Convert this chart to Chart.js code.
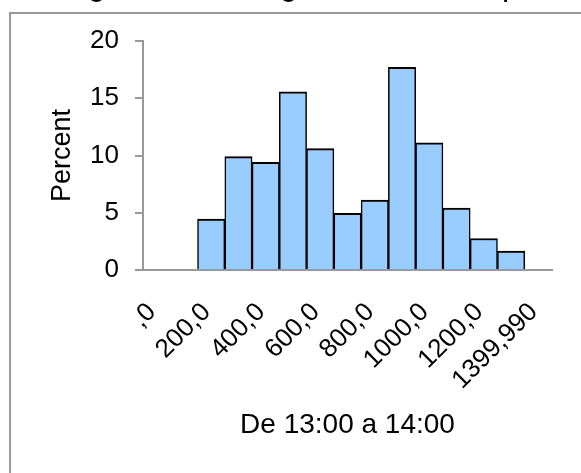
<!DOCTYPE html>
<html>
<head>
<meta charset="utf-8">
<script src="https://cdn.jsdelivr.net/npm/chart.js@4/dist/chart.umd.min.js"></script>
<style>
  html, body { margin: 0; padding: 0; background: #fff; overflow: hidden; }
</style>
</head>
<body>
<canvas id="myChart" width="581" height="473"></canvas>
<script>
// histogram bins (lower edge of each bin, width 100)
const binStarts = [200, 300, 400, 500, 600, 700, 800, 900, 1000, 1100, 1200, 1300]
const binWidth = 100
const percents = [4.45, 9.9, 9.4, 15.55, 10.6, 4.95, 6.1, 17.7, 11.1, 5.4, 2.75, 1.65]

const xTickValues = [0, 200, 400, 600, 800, 1000, 1200, 1400]
const xTickLabels = [',0', '200,0', '400,0', '600,0', '800,0', '1000,0', '1200,0', '1399,990']

const titleText = 'Figura 3 - Histograma de exemplo'
const ctx = document.getElementById('myChart')

Chart.defaults.font.family = '"Liberation Sans", Arial, sans-serif'
Chart.defaults.font.size = 26
Chart.defaults.color = '#000'

// grey frame and the cut-off figure caption above it
const framePlugin = {
    id: 'frame',
    beforeDraw(chart) {
        const c = chart.ctx
        c.save()
        c.fillStyle = '#fff'
        c.fillRect(0, 0, chart.width, chart.height)
        c.strokeStyle = '#999'
        c.lineWidth = 2
        c.beginPath()
        c.moveTo(10, chart.height)
        c.lineTo(10, 13)
        c.lineTo(chart.width, 13)
        c.stroke()
        c.fillStyle = '#000'
        c.font = '32px "Liberation Sans", Arial, sans-serif'
        c.textBaseline = 'alphabetic'
        c.fillText(titleText, 61, -5)
        c.restore()
    }
}

const chart = new Chart(ctx, {
    type: 'bar',
    data: {
        datasets: [{
            label: 'Percent',
            data: binStarts.map((s, i) => ({ x: s + binWidth / 2, y: percents[i] })),
            backgroundColor: '#99ccff',
            borderColor: '#000',
            borderWidth: { top: 2, left: 1.5, right: 1.5, bottom: 0 },
            borderSkipped: false,
            barPercentage: 1,
            categoryPercentage: 1
        }]
    },
    options: {
        responsive: false,
        animation: false,
        layout: {
            padding: { left: 40, right: 29, top: 41, bottom: 0 }
        },
        plugins: {
            legend: { display: false },
            tooltip: { enabled: false }
        },
        scales: {
            x: {
                type: 'linear',
                min: 0,
                max: 1500,
                offset: false,
                afterBuildTicks: s => { s.ticks = xTickValues.map(v => ({ value: v })) },
                afterFit: s => { s.height = 203 },
                ticks: {
                    autoSkip: false,
                    minRotation: 45,
                    maxRotation: 45,
                    padding: 19,
                    labelOffset: 9,
                    callback: (v, i) => xTickLabels[i]
                },
                grid: { display: false, offset: false },
                border: { color: '#999', width: 2 },
                title: {
                    display: true,
                    text: 'De 13:00 a 14:00',
                    font: { size: 28 },
                    padding: { top: 0, bottom: 31 }
                }
            },
            y: {
                min: 0,
                max: 20,
                afterFit: s => { s.width = 103 },
                ticks: { stepSize: 5, padding: 16 },
                grid: { drawOnChartArea: false, tickLength: 8, color: '#999', lineWidth: 2 },
                border: { color: '#999', width: 2 },
                title: {
                    display: true,
                    text: 'Percent',
                    font: { size: 27 },
                    padding: { top: 6, bottom: 0 }
                }
            }
        }
    },
    plugins: [framePlugin]
})
</script>
</body>
</html>
